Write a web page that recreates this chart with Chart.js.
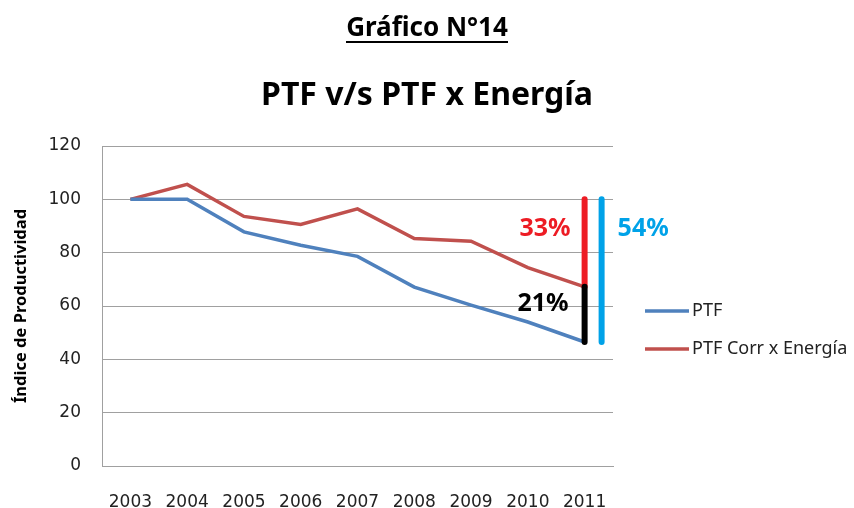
<!DOCTYPE html>
<html>
<head>
<meta charset="utf-8">
<script src="https://cdn.jsdelivr.net/npm/chart.js@4"></script>
<style>
  body { margin: 0; background: #fff; }
  #wrap { position: relative; width: 854px; height: 508px; }
  .head {
    position: absolute; left: 0; width: 854px; text-align: center;
    font-family: "Noto Sans", sans-serif; font-weight: bold; color: #000;
  }
  #heading { top: 8px; font-size: 26px; }
  #heading span { display: inline-block; line-height: 30px; border-bottom: 2px solid #000; }
  #title { top: 74px; font-size: 32px; line-height: 38px; }
</style>
</head>
<body>
<div id="wrap">
  <canvas id="myChart" width="854" height="508"></canvas>
  <div class="head" id="heading"><span>Gráfico N°14</span></div>
  <div class="head" id="title">PTF v/s PTF x Energía</div>
</div>
<script>
document.addEventListener('DOMContentLoaded', function() {

  // data
  var years = ["2003", "2004", "2005", "2006", "2007", "2008", "2009", "2010", "2011"];
  var ptf = [100, 100, 87.8, 82.8, 78.6, 67.1, 60.3, 54, 46.5];
  var ptfEnergia = [100, 105.6, 93.6, 90.6, 96.4, 85.3, 84.3, 74.4, 67.2];
  var seriesNames = ["PTF", "PTF Corr x Energía"];
  var lineColors = ["#4f81bd", "#c0504d"];
  var gapLabels = ["33%", "21%", "54%"];
  var gapColors = ["#ed1c24", "#000000", "#00a2e8"];

  // draws the gap bars at 2011 and the legend
  var gapPlugin = {
    id: 'gaps',
    afterDatasetsDraw: function(chart) {
      var ctx = chart.ctx;
      var x = chart.scales.x;
      var y = chart.scales.y;
      var last = years.length - 1;
      var px = x.getPixelForValue(last);
      var yBase = y.getPixelForValue(ptf[0]);
      var yMid = y.getPixelForValue(ptfEnergia[last]);
      var yLow = y.getPixelForValue(ptf[last]);

      ctx.save();
      ctx.lineWidth = 6;
      ctx.lineCap = 'round';
      function bar(color, bx, y1, y2) {
        ctx.strokeStyle = color;
        ctx.beginPath();
        ctx.moveTo(bx, y1);
        ctx.lineTo(bx, y2);
        ctx.stroke();
      }
      bar(gapColors[2], px + 17, yBase, yLow);
      bar(gapColors[0], px, yBase, yMid);
      bar(gapColors[1], px, yMid, yLow);

      ctx.font = 'bold 25px "Noto Sans", sans-serif';
      ctx.textBaseline = 'middle';
      ctx.fillStyle = gapColors[0];
      ctx.textAlign = 'right';
      ctx.fillText(gapLabels[0], px - 14, yBase + 30);
      ctx.fillStyle = gapColors[1];
      ctx.fillText(gapLabels[1], px - 16, yMid + 17);
      ctx.fillStyle = gapColors[2];
      ctx.textAlign = 'left';
      ctx.fillText(gapLabels[2], px + 33, yBase + 30);

      // legend
      ctx.lineCap = 'butt';
      ctx.lineWidth = 3.5;
      ctx.font = '18px "Noto Sans", sans-serif';
      ctx.fillStyle = '#222';
      ctx.textAlign = 'left';
      chart.data.datasets.forEach(function(ds, i) {
        var ly = 311 + i * 38;
        ctx.strokeStyle = ds.borderColor;
        ctx.beginPath();
        ctx.moveTo(645, ly);
        ctx.lineTo(689, ly);
        ctx.stroke();
        ctx.fillText(ds.label, 692, ly);
      });
      ctx.restore();
    }
  };

  new Chart("myChart", {
    type: "line",
    data: {
      labels: years,
      datasets: [{
        label: seriesNames[0],
        data: ptf,
        borderColor: lineColors[0],
        borderWidth: 3.5,
        pointRadius: 0,
        tension: 0
      }, {
        label: seriesNames[1],
        data: ptfEnergia,
        borderColor: lineColors[1],
        borderWidth: 3.5,
        pointRadius: 0,
        tension: 0
      }]
    },
    options: {
      responsive: false,
      animation: false,
      layout: {
        padding: { left: 7, right: 241, top: 146, bottom: 0 }
      },
      plugins: {
        legend: { display: false },
        tooltip: { enabled: false }
      },
      scales: {
        x: {
          offset: true,
          grid: { display: false, drawTicks: false },
          border: { display: true, color: '#a0a0a0', width: 1 },
          ticks: {
            color: '#222',
            padding: 28,
            font: { family: 'DejaVu Sans', size: 17, lineHeight: 1 }
          },
          afterFit: function(scale) { scale.height = 42; }
        },
        y: {
          min: 0,
          max: 120,
          ticks: {
            stepSize: 20,
            color: '#222',
            padding: 21,
            font: { family: 'DejaVu Sans', size: 17 }
          },
          grid: { color: '#a0a0a0', lineWidth: 1, drawTicks: false },
          border: { display: true, color: '#a0a0a0', width: 1 },
          title: {
            display: true,
            text: "Índice de Productividad",
            color: '#000',
            font: { family: 'Noto Sans', size: 16.5, weight: 'bold' },
            padding: { top: 4, bottom: 0 }
          },
          afterFit: function(scale) { scale.width = 95; }
        }
      }
    },
    plugins: [gapPlugin]
  });
});
</script>
</body>
</html>
